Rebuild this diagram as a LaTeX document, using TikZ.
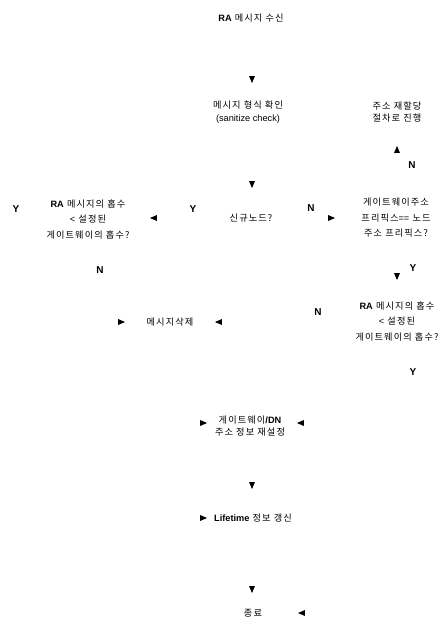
\documentclass[tikz,border=0pt]{standalone}
\usepackage{fontspec}
\setmainfont{Noto Sans CJK KR}[LetterSpace=12]
\newfontfamily\lat{Liberation Sans}
\usetikzlibrary{shapes.geometric}
\begin{document}
\begin{tikzpicture}[x=1pt,y=-1pt,
  txt/.style={font=\fontsize{9.2}{15.5}\selectfont, align=center, inner sep=0pt},
  txtb/.style={font=\fontsize{9.2}{12.5}\selectfont, align=center, inner sep=0pt},
  lbl/.style={font=\lat\bfseries\fontsize{10}{12}\selectfont, inner sep=0pt},
  tri/.style={isosceles triangle, isosceles triangle stretches, fill=black, draw=none, inner sep=0pt, outer sep=0pt, minimum height=7pt, minimum width=6pt},
  tdown/.style={tri, shape border rotate=-90},
  tup/.style={tri, shape border rotate=90},
  tleft/.style={tri, shape border rotate=180},
  tright/.style={tri, shape border rotate=0}
]
\fill[white] (0,0) rectangle (445,619);
\useasboundingbox (0,0) rectangle (445,619);

% texts
\node[txt] (start) at (251,18) {{\lat\bfseries RA} 메시지 수신};
\node[txtb] (fmt) at (248,112) {메시지 형식 확인\\{\lat (sanitize check)}};
\node[txtb] (realloc) at (397,112) {주소 재할당\\절차로 진행};
\node[txt] (newnode) at (251,218) {신규노드?};
\node[txt] (hopL) at (88,219) {{\lat\bfseries RA} 메시지의 홉수\\{\lat <} 설정된\\게이트웨이의 홉수?};
\node[txt] (prefix) at (396,218) {게이트웨이주소\\프리픽스{\lat ==} 노드\\주소 프리픽스?};
\node[txt] (hopR) at (397,321) {{\lat\bfseries RA} 메시지의 홉수\\{\lat <} 설정된\\게이트웨이의 홉수?};
\node[txt] (del) at (170,322) {메시지삭제};
\node[txtb] (reset) at (250,426) {게이트웨이{\lat\bfseries /DN}\\주소 정보 재설정};
\node[txt] (life) at (253,518) {{\lat\bfseries Lifetime} 정보 갱신};
\node[txt] (end) at (253,613) {종료};

% arrowheads
\node[tdown] (a1) at (252,78) {};
\node[tup] (a2) at (397,151) {};
\node[tdown] (a3) at (252,183) {};
\node[tleft] (a4) at (155,218) {};
\node[tright] (a5) at (330,218) {};
\node[tdown] (a6) at (397,275) {};
\node[tright] (a7) at (120,322) {};
\node[tleft] (a8) at (220,322) {};
\node[tright] (a9) at (202,423) {};
\node[tleft] (a10) at (302,423) {};
\node[tdown] (a11) at (252,484) {};
\node[tright] (a12) at (202,518) {};
\node[tdown] (a13) at (252,588) {};
\node[tleft] (a14) at (303,613) {};

% Y / N labels
\node[lbl] (n1) at (412,165) {N};
\node[lbl] (y1) at (193,209) {Y};
\node[lbl] (y2) at (16,209) {Y};
\node[lbl] (n2) at (100,270) {N};
\node[lbl] (n3) at (311,208) {N};
\node[lbl] (y3) at (413,268) {Y};
\node[lbl] (n4) at (318,312) {N};
\node[lbl] (y4) at (413,372) {Y};
\end{tikzpicture}
\end{document}
